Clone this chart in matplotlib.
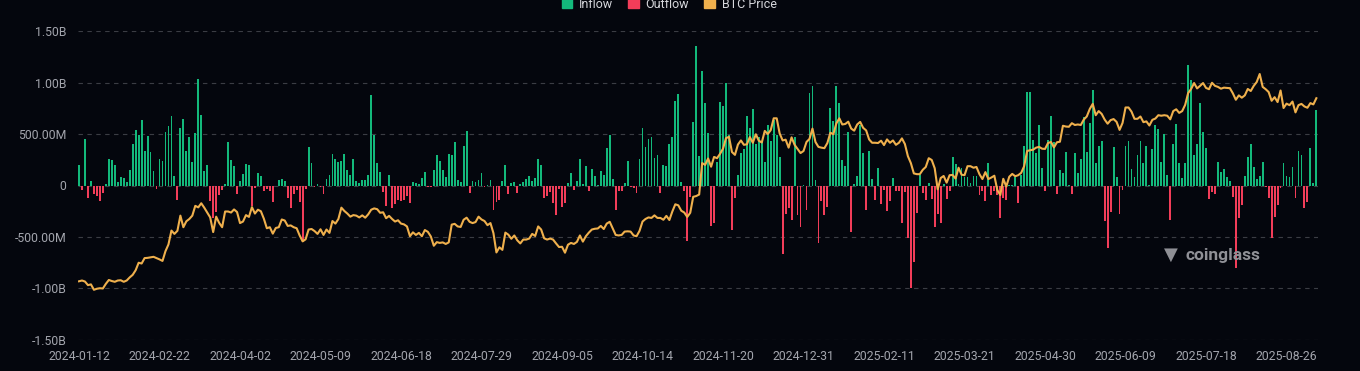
import numpy as np
import pandas as pd
import matplotlib
matplotlib.use('Agg')
import matplotlib.pyplot as plt
from matplotlib.patches import Patch
from matplotlib.ticker import FuncFormatter

# trading days (NYSE calendar) from first to last bar
holidays = ['2024-01-15', '2024-02-19', '2024-03-29', '2024-05-27', '2024-06-19',
            '2024-07-04', '2024-09-02', '2024-11-28', '2024-12-25',
            '2025-01-01', '2025-01-09', '2025-01-20', '2025-02-17', '2025-04-18',
            '2025-05-26', '2025-06-19', '2025-07-04', '2025-09-01']
dates = pd.bdate_range('2024-01-12', '2025-09-10', freq='C', holidays=holidays)

# daily net flow, USD millions
flows = [
    200, -48, 450, -118, 48, -80, -102, -150, -70, 19,
    256, 250, 198, 38, 80, 70, 35, 147, 403, 538,
    493, 634, 339, 477, 330, 138, -32, 253, 234, 515,
    576, 672, 96, -138, 560, 643, 333, 470, 224, 506,
    1037, 682, 138, 200, -150, -320, -256, -93, -45, 16,
    420, 246, 186, -83, 42, 115, 211, 202, -200, -20,
    125, 93, -55, -38, -55, -160, -4, 58, 64, 45,
    -118, -214, -80, -45, -160, -550, -32, 378, 218, -16,
    13, -10, -80, 67, 102, 304, 256, 224, 240, 307,
    154, 106, 253, 48, 29, 51, 51, 106, 883, 493,
    221, 134, -64, -198, 102, -221, -182, -141, -150, -138,
    -102, -170, 35, 26, 13, 74, 131, -10, -16, 147,
    298, 234, 147, 80, 310, 301, 422, 58, 38, 384,
    528, -77, 48, 35, 58, 125, -16, 3, 54,
    -234, -160, -144, 48, 202, -86, 26, 38, -77, 10,
    35, 64, 90, 42, 70, 253, 202, -122, -106, -67,
    -173, -282, -35, -208, -166, 29, 118, -42, 42, 262,
    16, 189, -51, 160, 96, 2, 138, 106, 365, 493,
    64, -237, -51, -51, 29, 234, -16, -26, -77, 256,
    554, 374, 454, 470, 266, 298, -74, 202, 189, 403,
    470, 819, 890, 35, -54, -541, -112, 618, 1354,
    291, 1114, 800, 506, -397, -365, 230, 806, 768, 995,
    490, -430, -118, 102, 317, 352, 672, 560, 746, 400,
    470, 435, 224, 592, 430, 640, 490, 272, -662, -272,
    -221, -333, 470, -285, -406, 8, -237, 902, 970, 54,
    -560, -149, -284, -209, 750, 624, 970, 797, 250, 189,
    515, -450, 19, 93, 586, 317, -234, 339, 67, -138,
    170, -182, -45, -246, -150, 74, -54, -54, -362,
    -61, -506, -998, -746, -269, 99, -74, -141, 26, -128,
    -400, -272, -365, 16, -128, -54, 275, 208, 15, 166,
    84, 84, 29, 90, 90, -90, -54, -150, 220, -93,
    -54, -96, -320, -118, -144, 1, 2, 80, -166, 106,
    381, 906, 912, 442, 314, 586, 173, -56, 438, 672,
    425, -86, 147, 117, 321, 5, -86, 320, 117, 262,
    662, 330, 608, 931, 214, 384, 432, -342, -608,
    -262, 374, 86, -272, -45, 384, 429, 163, 86, 298,
    429, 218, 387, 6, 352, 586, 547, 230, 499, 106,
    -336, 406, 598, 218, 77, 218, 1168, 1024, 298, 403,
    797, 518, 362, -128, -64, -83, 227, 131, 157, 80,
    48, -112, -803, -317, -192, 90, 275, 403, 179, 67,
    90, 230, -13, -122, -512, -310, -192, -22, 220, 90,
    86, 179, -122, 336, 301, -218, -157, 362, 26, 736,
]

# BTC close, USD thousands
btc_price = [
    42.8, 43.1, 42.7, 41.3, 41.6, 39.5, 39.9, 40.1, 40.0, 41.8,
    43.3, 42.9, 42.6, 43.1, 43.2, 42.6, 43.1, 44.3, 45.3, 47.1,
    50.0, 49.7, 51.8, 51.9, 52.1, 52.3, 51.8, 51.3, 50.7,
    54.5, 57.1, 62.5, 61.2, 62.4, 68.3, 63.8, 66.1, 67.0, 68.3,
    72.1, 71.5, 73.1, 71.4, 69.5, 67.6, 61.9, 67.9, 65.5, 63.8,
    69.9, 69.9, 69.5, 70.7, 69.7, 65.4, 66.0, 68.5, 67.8,
    71.6, 69.1, 70.6, 70.0, 67.1, 63.4, 63.8, 61.3, 63.5, 63.8,
    66.8, 66.4, 64.3, 64.5, 63.8, 63.4, 60.6, 58.3, 59.1, 62.9,
    63.1, 62.3, 61.2, 63.0, 60.8, 62.9, 61.6, 66.2, 65.2, 67.0,
    71.4, 70.1, 69.1, 67.9, 68.5, 68.3, 67.6, 68.4, 67.5,
    68.8, 70.6, 71.1, 70.8, 69.4, 69.6, 67.3, 68.2, 67.0, 66.0,
    66.5, 65.2, 64.9, 64.1, 60.3, 61.8, 60.8, 61.6, 60.3,
    62.7, 62.0, 60.2, 56.6, 58.0, 57.7, 57.9, 57.3, 57.9,
    64.8, 65.1, 64.1, 63.9, 66.7, 67.5, 65.9, 65.4, 65.8, 67.9,
    66.8, 66.2, 64.6, 65.4, 61.5, 54.0, 56.0, 55.0, 61.7, 60.9,
    59.3, 60.6, 58.7, 57.5, 59.0, 59.0, 59.4, 61.2, 60.4, 64.1,
    62.9, 59.5, 59.0, 59.4, 59.0, 57.5, 56.1, 56.2, 53.9,
    57.0, 57.7, 57.3, 58.1, 60.6, 58.2, 60.3, 61.7, 62.9, 63.2,
    63.3, 64.3, 63.1, 65.2, 65.9, 63.3, 60.8, 60.6, 60.8, 62.1,
    62.2, 62.1, 60.6, 60.3, 62.4, 66.0, 67.0, 67.6, 67.4, 68.4,
    67.4, 67.4, 66.7, 68.2, 66.6, 69.9, 72.7, 72.3, 70.2, 69.5,
    67.8, 69.4, 75.6, 75.9, 76.5, 88.7, 88.0, 90.5, 87.3, 91.1,
    90.6, 92.3, 94.3, 98.4, 98.9, 93.0, 91.9, 95.9, 97.5,
    95.8, 96.0, 98.8, 96.6, 99.9, 97.4, 96.7, 101.2, 100.0, 101.5,
    106.1, 106.1, 100.2, 97.5, 97.8, 94.7, 98.7, 95.8, 94.2,
    92.6, 93.4,
    96.9, 98.1, 102.1, 96.9, 95.0, 94.7,
    94.5, 96.5, 100.5, 99.9, 104.1, 106.1, 103.7, 103.9, 104.8,
    102.1, 101.3, 103.7, 104.7, 102.4, 101.4, 97.9, 96.6, 96.6, 96.5,
    97.4, 95.7, 97.9, 96.6, 97.5, 95.8, 96.6, 98.3, 96.1,
    91.4, 88.7, 84.7, 84.4, 84.4, 86.1, 87.2, 90.6, 89.9, 86.7,
    78.5, 82.9, 83.7, 81.1, 84.0, 84.1, 82.7, 86.9, 84.2, 84.0,
    87.5, 87.5, 86.9, 87.2, 84.4, 82.5, 85.2, 82.5, 83.1, 83.8,
    78.2, 76.3, 82.6, 79.6, 83.4, 84.5, 83.6, 84.0, 84.9,
    87.5, 93.4, 93.7, 93.9, 94.7, 95.0, 94.3, 94.2, 96.5, 96.9,
    94.8, 96.8, 97.0, 103.2, 102.9, 102.8, 104.2, 103.5, 103.7, 103.5,
    105.6, 106.8, 109.7, 111.7, 107.3, 108.9, 107.8, 105.6, 104.0,
    105.4, 105.8, 104.7, 101.6, 104.3, 110.3, 110.3, 108.7, 105.9, 105.9,
    106.8, 104.6, 104.9, 103.3, 105.5, 106.0, 107.3, 107.1, 107.3,
    107.1, 105.7, 108.9, 109.6, 108.2, 108.9, 111.3, 115.9, 117.5,
    119.8, 117.7, 118.7, 119.8, 117.9, 117.4, 119.9, 118.7, 118.3, 117.6,
    118.0, 117.9, 117.8, 115.8, 113.3, 115.0, 114.1, 115.0, 117.5, 116.7,
    118.7, 120.2, 123.3, 118.3, 117.4, 116.3, 112.9, 114.3, 112.4, 116.9,
    110.1, 111.8, 111.2, 112.6, 108.4, 111.2, 111.7, 110.7, 110.2,
    112.0, 111.5, 113.9,
]

BG = '#04060d'
GREEN = '#13b97b'
RED = '#f23d59'
GOLD = '#efb04d'
GREY = '#a3a5ad'

plt.rcParams['font.family'] = ['Roboto', 'DejaVu Sans']

flows = np.array(flows, dtype=float)
x = np.arange(len(dates))
colors = np.where(flows >= 0, GREEN, RED)

fig = plt.figure(figsize=(13.6, 3.71), dpi=100, facecolor=BG)
ax = fig.add_axes([0.057, 0.0836, 0.912, 0.8328])
ax.set_facecolor(BG)

ax.bar(x, flows, width=0.62, color=colors, linewidth=0)
ax.set_xlim(-0.5, len(x) - 0.5)
ax.set_ylim(-1500, 1500)
ax.set_yticks([-1500, -1000, -500, 0, 500, 1000, 1500])


def fmt_money(v, pos):
    if v == 0:
        return '0'
    if abs(v) >= 1000:
        return '%.2fB' % (v / 1000)
    return '%.2fM' % v


ax.yaxis.set_major_formatter(FuncFormatter(fmt_money))
tick_idx = x[::27]
ax.set_xticks(tick_idx)
ax.set_xticklabels([dates[i].strftime('%Y-%m-%d') for i in tick_idx])
ax.tick_params(axis='both', length=0, colors=GREY, labelsize=8.8)
ax.tick_params(axis='x', pad=7)
ax.tick_params(axis='y', pad=8)
ax.grid(axis='y', color='#3b3d44', linestyle=(0, (4, 4)), linewidth=0.8)
ax.set_axisbelow(True)
for s in ax.spines.values():
    s.set_visible(False)

ax2 = ax.twinx()
ax2.plot(x, btc_price, color=GOLD, linewidth=1.5)
ax2.set_ylim(20, 140)
ax2.set_yticks([])
for s in ax2.spines.values():
    s.set_visible(False)

handles = [Patch(color=GREEN, label='Inflow'),
           Patch(color=RED, label='Outflow'),
           Patch(color=GOLD, label='BTC Price')]
leg = fig.legend(handles=handles, loc='center', bbox_to_anchor=(0.492, 0.989), ncol=3,
                 frameon=False, fontsize=9, handlelength=0.85, handleheight=0.85,
                 handletextpad=0.55, columnspacing=1.2)
for t in leg.get_texts():
    t.set_color('#d6d7dc')

fig.text(0.872, 0.312, 'coinglass', color='#8f9096', fontsize=12.5, fontweight='bold',
         ha='left', va='center')
fig.text(0.861, 0.312, '\u25BC', color='#8f9096', fontsize=13, ha='center', va='center')

fig.savefig('out.png', dpi=100, facecolor=BG)
